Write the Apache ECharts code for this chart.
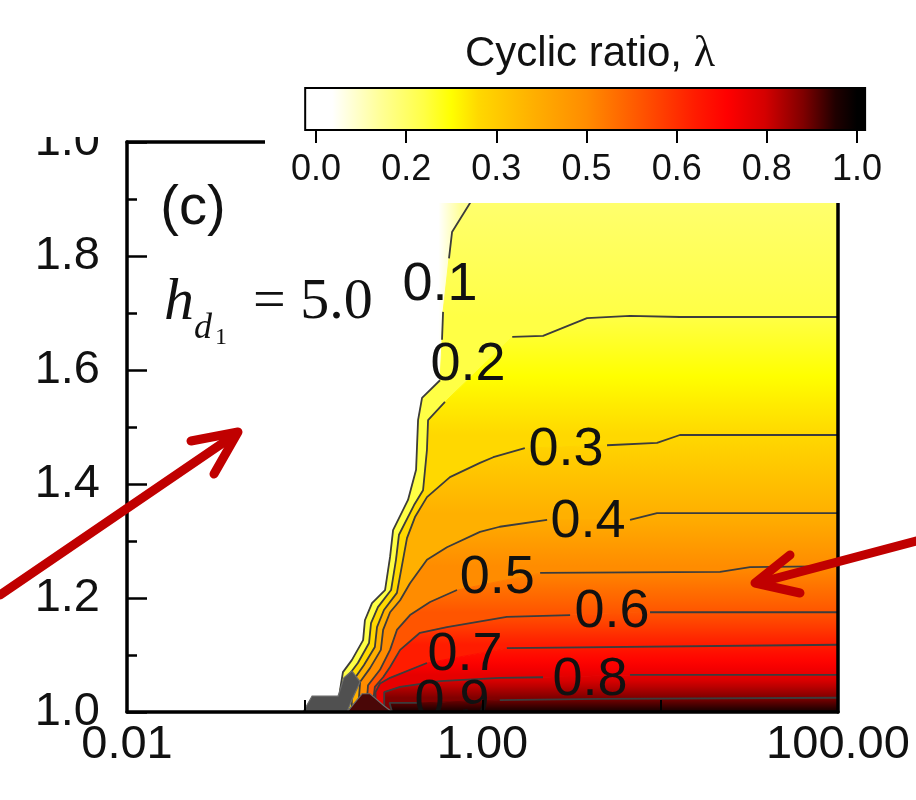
<!DOCTYPE html>
<html>
<head>
<meta charset="utf-8">
<title>Cyclic ratio</title>
<script src="https://cdn.jsdelivr.net/npm/echarts@6/dist/echarts.min.js"></script>
<style>
html, body { margin: 0; padding: 0; background: #fff; }
#chart { width: 916px; height: 800px; }
</style>
</head>
<body>
<div id="chart"></div>
<script>
// tick labels as printed on the figure
var xTickLabels = ['0.01', '', '1.00', '', '100.00'];
var yTickLabels = ['1.0', '1.2', '1.4', '1.6', '1.8', '1.0'];
var cbLabels = ['0.0', '0.2', '0.3', '0.5', '0.6', '0.8', '1.0'];

var levels = [0.0, 0.1, 0.2, 0.3, 0.4, 0.5, 0.6, 0.7, 0.8, 0.9];
var topLambda = 0.14;     // lambda at the upper right corner
var bottomLambda = 0.97;  // lambda along y = 1.0

// contour lines, [x, y]; null breaks the line where the inline label sits
var cEdge = [[0.562, 2.0], [0.555, 1.893], [0.527, 1.811], [0.494, 1.723], [0.469, 1.635], [0.434, 1.556],
  [0.412, 1.512], [0.401, 1.425], [0.362, 1.372], [0.298, 1.319], [0.286, 1.272], [0.268, 1.214],
  [0.227, 1.191], [0.207, 1.161], [0.202, 1.126], [0.175, 1.091], [0.156, 1.070], [0.150, 1.039]];
var c01 = [[0.943, 2.0], [0.851, 1.893], [0.674, 1.842], [0.648, 1.796], null, [0.600, 1.702], [0.592, 1.653], null,
  [0.577, 1.582], [0.457, 1.551], [0.434, 1.512], [0.423, 1.425], [0.381, 1.372], [0.314, 1.319],
  [0.302, 1.272], [0.283, 1.214], [0.239, 1.191], [0.218, 1.161], [0.213, 1.126], [0.184, 1.091],
  [0.164, 1.070], [0.158, 1.039], [0.158, 1.0]];
var c02 = [[100, 1.693], [12.9, 1.693], [6.76, 1.695], [3.87, 1.691], [2.19, 1.660], [1.47, 1.658], null,
  [0.615, 1.544], [0.494, 1.512], [0.487, 1.460], [0.463, 1.389], [0.412, 1.363], [0.339, 1.311],
  [0.326, 1.267], [0.306, 1.214], [0.258, 1.184], [0.236, 1.156], [0.230, 1.121], [0.199, 1.086],
  [0.177, 1.065], [0.171, 1.035], [0.171, 1.0]];
var c03 = [[100, 1.486], [12.9, 1.486], [9.59, 1.472], [5.02, 1.468], null, [1.73, 1.463], [1.15, 1.447],
  [0.968, 1.437], [0.656, 1.412], [0.487, 1.377], [0.417, 1.342], [0.376, 1.305], [0.357, 1.267],
  [0.330, 1.209], [0.279, 1.179], [0.255, 1.149], [0.248, 1.114], [0.215, 1.082], [0.192, 1.060],
  [0.184, 1.033], [0.184, 1.0]];
var c04 = [[100, 1.349], [9.59, 1.349], [6.76, 1.337], null, [2.31, 1.337], [1.25, 1.325], [0.968, 1.316],
  [0.631, 1.289], [0.487, 1.267], [0.391, 1.226], [0.344, 1.196], [0.302, 1.175], [0.276, 1.144],
  [0.268, 1.109], [0.233, 1.077], [0.205, 1.053], [0.199, 1.0]];
var c05 = [[100, 1.256], [32.0, 1.254], [21.7, 1.246], [2.11, 1.244], null, [0.719, 1.214], [0.507, 1.193],
  [0.391, 1.170], [0.330, 1.144], [0.302, 1.109], [0.265, 1.074], [0.227, 1.047], [0.221, 1.0]];
var c06 = [[100, 1.175], [8.76, 1.175], null, [3.11, 1.170], [1.37, 1.167], [0.631, 1.149], [0.445, 1.139],
  [0.344, 1.109], [0.302, 1.079], [0.276, 1.061], [0.248, 1.044], [0.239, 1.0]];
var c07 = [[100, 1.118], [1.37, 1.112], null, [0.487, 1.086], [0.302, 1.060], [0.265, 1.050], [0.250, 1.035],
  [0.250, 1.0]];
var c08 = [[100, 1.065], [6.76, 1.065], null, [2.19, 1.061], [1.25, 1.060], [0.577, 1.054], [0.344, 1.044],
  [0.280, 1.035], [0.280, 1.0]];
var c09 = [[100, 1.025], [4.58, 1.023], [1.25, 1.021], null, [0.445, 1.016], [0.300, 1.016], [0.310, 1.0]];

var contourLabels = [[0.577, 1.749, '0.1'], [0.829, 1.609, '0.2'], [2.95, 1.460, '0.3'], [3.92, 1.333, '0.4'],
  [1.21, 1.235, '0.5'], [5.35, 1.175, '0.6'], [0.797, 1.100, '0.7'], [4.03, 1.056, '0.8'], [0.674, 1.018, '0.9']];

// small patches at the lower left corner
var grayPatch = [[0.0978, 1.0], [0.110, 1.028], [0.154, 1.028], [0.166, 1.060], [0.184, 1.072],
  [0.205, 1.053], [0.184, 1.021], [0.173, 1.0]];
var moundPatch = [[0.173, 1.0], [0.210, 1.032], [0.233, 1.032], [0.279, 1.011], [0.310, 1.0]];
var cornerTop = [100, 2.0];
var cornerBottom = [100, 1.0];

// colour scale of lambda
var cmapStops = [[0, '#ffffff'], [0.03, '#ffffff'], [0.12, '#ffff96'], [0.2, '#ffff45'], [0.25, '#ffff00'],
  [0.3, '#ffd800'], [0.4, '#ffb000'], [0.5, '#ff8c00'], [0.6, '#ff5500'], [0.7, '#ff1c00'],
  [0.76, '#ff0000'], [0.83, '#d40000'], [0.9, '#800000'], [0.96, '#200000'], [1, '#000000']];

function hexRgb(h) {
    return [parseInt(h.substr(1, 2), 16), parseInt(h.substr(3, 2), 16), parseInt(h.substr(5, 2), 16)];
}

function cmap(v) {
    v = Math.max(0, Math.min(1, v));
    for (var i = 1; i < cmapStops.length; i++) {
        if (v <= cmapStops[i][0]) {
            var a = cmapStops[i - 1], b = cmapStops[i];
            var t = (v - a[0]) / (b[0] - a[0]);
            var ca = hexRgb(a[1]), cb = hexRgb(b[1]);
            var c = ca.map(function (x, j) { return Math.round(x + (cb[j] - x) * t); });
            return 'rgb(' + c.join(',') + ')';
        }
    }
    return cmapStops[cmapStops.length - 1][1];
}

function pts(c) {
    return c.filter(function (p) { return p !== null; });
}

var contours = [cEdge, c01, c02, c03, c04, c05, c06, c07, c08, c09];
var bands = [];
bands.push({ poly: pts(cEdge).concat(pts(c01).reverse()), horizontal: true });
bands.push({ poly: pts(c01).concat(pts(c02).reverse(), [cornerTop]),
    y0: cornerTop[1], l0: topLambda, y1: c02[0][1], l1: levels[2] });
for (var k = 2; k <= 8; k++) {
    bands.push({ poly: pts(contours[k]).concat(pts(contours[k + 1]).reverse()),
        y0: contours[k][0][1], l0: levels[k], y1: contours[k + 1][0][1], l1: levels[k + 1] });
}
bands.push({ poly: pts(c09).concat([cornerBottom]), y0: c09[0][1], l0: levels[9], y1: 1.0, l1: bottomLambda });

function renderBand(params, api) {
    var b = bands[api.value(2)];
    var points = b.poly.map(function (p) { return api.coord(p); });
    var fill;
    if (b.horizontal) {
        var c1 = cmap(0.12);
        fill = { type: 'linear', x: 0, y: 0, x2: 1, y2: 0, colorStops: [
            { offset: 0, color: '#ffffff' }, { offset: 0.72, color: '#ffffff' },
            { offset: 0.88, color: c1 }, { offset: 1, color: c1 }] };
    } else {
        var py0 = api.coord([1, b.y0])[1], py1 = api.coord([1, b.y1])[1];
        var stops = [];
        for (var i = 0; i <= 4; i++) {
            stops.push({ offset: i / 4, color: cmap(b.l0 + (b.l1 - b.l0) * i / 4) });
        }
        fill = { type: 'linear', x: 0, y: py0, x2: 0, y2: py1, global: true, colorStops: stops };
    }
    return { type: 'polygon', shape: { points: points }, style: { fill: fill, stroke: fill, lineWidth: 1 } };
}

var patches = [grayPatch, moundPatch];
var patchFill = ['#505050', '#4a0707'];

function renderPatch(params, api) {
    var i = api.value(2);
    return { type: 'polygon', shape: { points: patches[i].map(function (p) { return api.coord(p); }) },
        style: { fill: patchFill[i], stroke: '#6a6a6a', lineWidth: 1.2 } };
}

function renderLabel(params, api) {
    var d = contourLabels[api.value(2)];
    var p = api.coord([d[0], d[1]]);
    return { type: 'text', x: p[0], y: p[1], style: { text: d[2], font: '54px "Liberation Sans", Arial, sans-serif',
        fill: '#111', align: 'center', verticalAlign: 'middle' } };
}

function renderColorbar(params, api) {
    var p0 = api.coord([-0.12, 1]), p1 = api.coord([6.09, 0]);
    var a = api.coord([0, 0])[0], b = api.coord([6, 0])[0];
    var stops = cmapStops.map(function (s) { return { offset: s[0], color: s[1] }; });
    return { type: 'rect', shape: { x: p0[0], y: p0[1], width: p1[0] - p0[0], height: p1[1] - p0[1] },
        style: { fill: { type: 'linear', x: a, y: 0, x2: b, y2: 0, global: true, colorStops: stops },
            stroke: '#000', lineWidth: 2 } };
}

var contourSeries = [c01, c02, c03, c04, c05, c06, c07, c08, c09].map(function (c) {
    return {
        type: 'line', data: c.map(function (p) { return p === null ? ['-', '-'] : p; }),
        symbol: 'none', showSymbol: false, z: 2, silent: true, clip: true,
        lineStyle: { color: '#3c3c3c', width: 1.8 }
    };
});

var sans = '"Liberation Sans", Arial, sans-serif';
var chart = echarts.init(document.getElementById('chart'));

chart.setOption({
    animation: false,
    backgroundColor: '#fff',
    grid: [
        { left: 127, right: 78, top: 142, bottom: 88, outerBoundsMode: 'none' },
        { left: 316, right: 59, top: 88, height: 42, outerBoundsMode: 'none' }
    ],
    xAxis: [
        {
            type: 'log', logBase: 10, min: 0.01, max: 100, gridIndex: 0, z: 5,
            axisLine: { show: true, lineStyle: { color: '#000', width: 3.5 } },
            axisTick: { show: true, inside: true, length: 12, lineStyle: { color: '#000', width: 2 } },
            splitLine: { show: false },
            axisLabel: {
                margin: 10, color: '#111', fontSize: 47, fontFamily: sans,
                formatter: function (v) { return xTickLabels[Math.round(Math.log10(v)) + 2] || ''; }
            }
        },
        {
            type: 'log', logBase: 10, min: 0.01, max: 100, gridIndex: 0, position: 'top', z: 5,
            axisLine: { show: true, lineStyle: { color: '#000', width: 3.5 } },
            axisTick: { show: false }, axisLabel: { show: false }, splitLine: { show: false }
        },
        {
            type: 'value', min: 0, max: 6, interval: 1, gridIndex: 1, z: 20,
            axisLine: { show: false },
            axisTick: { show: true, length: 13, lineStyle: { color: '#000', width: 2 } },
            splitLine: { show: false },
            axisLabel: {
                margin: 22, color: '#111', fontSize: 36, fontFamily: sans,
                formatter: function (v) { return cbLabels[Math.round(v)]; }
            }
        }
    ],
    yAxis: [
        {
            type: 'value', min: 1, max: 2, interval: 0.2, gridIndex: 0, z: 5,
            axisLine: { show: true, lineStyle: { color: '#000', width: 3.5 } },
            axisTick: { show: true, inside: true, length: 20, lineStyle: { color: '#000', width: 2.5 } },
            minorTick: { show: true, splitNumber: 2, length: 10, lineStyle: { color: '#000', width: 2.5 } },
            splitLine: { show: false }, minorSplitLine: { show: false },
            axisLabel: {
                margin: 27, color: '#111', fontSize: 47, fontFamily: sans,
                formatter: function (v) { return yTickLabels[Math.round((v - 1) / 0.2)]; }
            }
        },
        {
            type: 'value', min: 1, max: 2, gridIndex: 0, position: 'right', z: 5,
            axisLine: { show: true, lineStyle: { color: '#000', width: 3.5 } },
            axisTick: { show: false }, axisLabel: { show: false }, splitLine: { show: false }
        },
        { type: 'value', min: 0, max: 1, gridIndex: 1, show: false }
    ],
    series: [
        {
            type: 'custom', renderItem: renderBand, silent: true, z: 1,
            data: bands.map(function (b, i) { return [1, 1.5, i]; }), encode: { x: 0, y: 1 }
        },
        {
            type: 'custom', renderItem: renderPatch, silent: true, z: 3,
            data: patches.map(function (p, i) { return [1, 1.5, i]; }), encode: { x: 0, y: 1 }
        }
    ].concat(contourSeries, [
        {
            type: 'custom', renderItem: renderLabel, silent: true, z: 4, clip: true,
            data: contourLabels.map(function (d, i) { return [d[0], d[1], i]; }), encode: { x: 0, y: 1 }
        },
        {
            type: 'custom', renderItem: renderColorbar, silent: true, z: 20,
            xAxisIndex: 2, yAxisIndex: 2, data: [[3, 0.5]], encode: { x: 0, y: 1 }
        }
    ]),
    graphic: { elements: [
        { type: 'rect', shape: { x: 265, y: 0, width: 651, height: 203 }, style: { fill: '#fff' }, z: 10, silent: true },
        { type: 'rect', shape: { x: 0, y: 0, width: 265, height: 137 }, style: { fill: '#fff' }, z: 10, silent: true },
        { type: 'text', x: 590, y: 54, z: 20, silent: true, style: { text: 'Cyclic ratio, {l|λ}',
            fontSize: 42, fontFamily: 'Liberation Sans', fill: '#111', align: 'center', verticalAlign: 'middle',
            rich: { l: { fontSize: 44, fontFamily: 'Liberation Serif', fill: '#111' } } } },
        { type: 'text', x: 193, y: 209, z: 20, silent: true, style: { text: '(c)', font: '56px ' + sans,
            fill: '#111', align: 'center', verticalAlign: 'middle' } },
        { type: 'text', x: 164, y: 303, z: 20, silent: true, style: { text: 'h',
            font: 'italic 60px "Liberation Serif", serif', fill: '#111', align: 'left', verticalAlign: 'middle' } },
        { type: 'text', x: 194, y: 329, z: 20, silent: true, style: { text: 'd',
            font: 'italic 36px "Liberation Serif", serif', fill: '#111', align: 'left', verticalAlign: 'middle' } },
        { type: 'text', x: 215, y: 338, z: 20, silent: true, style: { text: '1',
            font: '24px "Liberation Serif", serif', fill: '#111', align: 'left', verticalAlign: 'middle' } },
        { type: 'text', x: 253, y: 303, z: 20, silent: true, style: { text: '= 5.0',
            font: '58px "Liberation Serif", serif', fill: '#111', align: 'left', verticalAlign: 'middle' } },
        { type: 'polyline', z: 30, silent: true, shape: { points: [[0, 595], [236, 434]] },
            style: { stroke: '#c00000', lineWidth: 9, lineCap: 'round', fill: 'none' } },
        { type: 'polyline', z: 30, silent: true, shape: { points: [[191, 441], [238, 432], [214, 474]] },
            style: { stroke: '#c00000', lineWidth: 9, lineCap: 'round', lineJoin: 'round', fill: 'none' } },
        { type: 'polyline', z: 30, silent: true, shape: { points: [[916, 541], [758, 583]] },
            style: { stroke: '#c00000', lineWidth: 9, lineCap: 'round', fill: 'none' } },
        { type: 'polyline', z: 30, silent: true, shape: { points: [[790, 555], [755, 583], [800, 593]] },
            style: { stroke: '#c00000', lineWidth: 9, lineCap: 'round', lineJoin: 'round', fill: 'none' } }
    ] }
});
</script>
</body>
</html>
